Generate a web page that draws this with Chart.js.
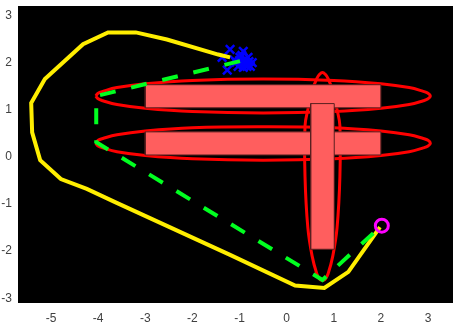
<!DOCTYPE html>
<html>
<head>
<meta charset="utf-8">
<style>
  html, body { margin: 0; padding: 0; background: #fff; }
  #wrap { width: 455px; height: 328px; }
</style>
<script src="https://cdn.jsdelivr.net/npm/chart.js@4"></script>
</head>
<body>
<div id="wrap"><canvas id="myChart" width="455" height="328"></canvas></div>
<script>
const xTicks = [-5, -4, -3, -2, -1, 0, 1, 2, 3];
const yTicks = [-3, -2, -1, 0, 1, 2, 3];

const yellowX = [-1.20, -1.45, -2.54, -3.20, -3.79, -4.32, -5.13, -5.42, -5.40, -5.23, -4.79, -4.24, -3.64, -1.20, 0.18, 0.80, 1.31, 1.98];
const yellowY = [2.11, 2.17, 2.49, 2.64, 2.64, 2.39, 1.65, 1.14, 0.52, -0.07, -0.47, -0.68, -0.96, -2.08, -2.73, -2.78, -2.44, -1.49];

const greenX = [-0.99, -4.04, -4.04, 0.76, 1.98];
const greenY = [2.03, 1.29, 0.31, -2.61, -1.49];

const blueX = [-1.20, -0.92, -1.37, -1.26, -0.73, -1.07, -0.99, -0.88, -0.82, -1.03, -0.92, -0.84, -0.77, -1.11, -0.97, -0.95, -0.90, -1.00, -0.80];
const blueY = [2.28, 2.24, 2.11, 1.84, 2.00, 2.01, 2.11, 2.05, 2.11, 1.92, 1.90, 1.92, 1.92, 2.05, 1.99, 2.15, 1.97, 2.04, 2.02];

const circleX = [2.02];
const circleY = [-1.46];

// ellipses
const upperEllipseX = [-4.05, -4.00, -3.90, -3.60, -3.00, -2.00, -0.50, 1.00, 2.00, 2.60, 2.90, 3.00, 3.05, 3.00, 2.90, 2.60, 2.00, 1.00, -0.50, -2.00, -3.00, -3.60, -3.90, -4.00, -4.05];
const upperEllipseY = [1.29, 1.35, 1.39, 1.47, 1.55, 1.62, 1.65, 1.62, 1.55, 1.47, 1.39, 1.35, 1.29, 1.23, 1.19, 1.11, 1.03, 0.96, 0.93, 0.96, 1.03, 1.11, 1.19, 1.23, 1.29];
const lowerEllipseX = upperEllipseX;
const lowerEllipseY = [0.29, 0.35, 0.39, 0.47, 0.55, 0.62, 0.64, 0.62, 0.55, 0.47, 0.39, 0.35, 0.29, 0.23, 0.19, 0.11, 0.03, -0.04, -0.07, -0.04, 0.03, 0.11, 0.19, 0.23, 0.29];
const sideEllipseX = [0.76, 0.82, 0.88, 0.98, 1.07, 1.13, 1.13, 1.07, 0.98, 0.88, 0.82, 0.76, 0.70, 0.64, 0.54, 0.45, 0.39, 0.39, 0.45, 0.54, 0.64, 0.70, 0.76];
const sideEllipseY = [-2.63, -2.59, -2.48, -2.10, -1.50, -0.42, 0.66, 1.00, 1.40, 1.66, 1.75, 1.79, 1.75, 1.66, 1.40, 1.00, 0.66, -0.42, -1.50, -2.10, -2.48, -2.59, -2.63];

// boxes as [left, right, bottom, top]
const upperBox = [-3, 2, 1.04, 1.53];
const lowerBox = [-3, 2, 0.04, 0.53];
const sideBox = [0.51, 1.01, -1.96, 1.13];

function pts(xs, ys) {
  return xs.map((x, i) => ({ x: x, y: ys[i] }));
}

function outline(name, xs, ys, color, width, order, extra) {
  return Object.assign({
    label: name,
    data: pts(xs, ys),
    showLine: true,
    borderColor: color,
    borderWidth: width,
    pointRadius: 0,
    fill: false,
    tension: 0,
    order: order,
  }, extra || {});
}

// a box is a top edge filled down to its bottom edge, plus a thin dark frame
function box(name, b, order) {
  return [
    outline(name + ' frame', [b[0], b[1], b[1], b[0], b[0]], [b[2], b[2], b[3], b[3], b[2]], '#5a2020', 1, order),
    outline(name, [b[0], b[1]], [b[3], b[3]], 'rgba(0,0,0,0)', 0, order + 0.1, { fill: '+1', backgroundColor: '#ff5e5e' }),
    outline(name + ' base', [b[0], b[1]], [b[2], b[2]], 'rgba(0,0,0,0)', 0, order + 0.2),
  ];
}

const blackPlot = {
  id: 'blackPlot',
  beforeDraw(chart) {
    const a = chart.chartArea;
    chart.ctx.fillStyle = '#000';
    chart.ctx.fillRect(a.left, a.top, a.width, a.height);
  },
};

const ctx = document.getElementById('myChart').getContext('2d');

new Chart(ctx, {
  type: 'scatter',
  data: {
    datasets: [
      outline('circle', circleX, circleY, '#ff00ff', 3, 1, { showLine: false, pointRadius: 6.5, pointBorderWidth: 3, pointBorderColor: '#ff00ff', pointBackgroundColor: 'rgba(0,0,0,0)' }),
      outline('green', greenX, greenY, '#00ff20', 4, 2, { borderDash: [16, 16] }),
      outline('yellow', yellowX, yellowY, '#ffee00', 4, 3),
      outline('blue', blueX, blueY, '#0000ff', 2, 4, { showLine: false, pointStyle: 'crossRot', pointRadius: 6, pointBorderWidth: 2.5, pointBorderColor: '#0000ff' }),
      ...box('sideBox', sideBox, 5),
      ...box('upperBox', upperBox, 6),
      ...box('lowerBox', lowerBox, 7),
      outline('upperEllipse', upperEllipseX, upperEllipseY, '#ff0000', 3, 8, { tension: 0.4 }),
      outline('lowerEllipse', lowerEllipseX, lowerEllipseY, '#ff0000', 3, 8, { tension: 0.4 }),
      outline('sideEllipse', sideEllipseX, sideEllipseY, '#ff0000', 3, 8, { tension: 0.4 }),
    ],
  },
  plugins: [blackPlot],
  options: {
    responsive: false,
    animation: false,
    layout: { autoPadding: false, padding: { top: 6, right: 2, left: 0, bottom: 0 } },
    plugins: { legend: { display: false }, tooltip: { enabled: false } },
    scales: {
      x: {
        type: 'linear',
        min: -5.7,
        max: 3.53,
        grid: { display: false, drawTicks: false },
        border: { display: false },
        afterBuildTicks(axis) { axis.ticks = xTicks.map(v => ({ value: v })); },
        afterFit(axis) { axis.height = 25; axis.paddingLeft = 0; axis.paddingRight = 0; },
        ticks: { color: '#404040', font: { family: 'Liberation Sans', size: 12 }, maxRotation: 0, autoSkip: false, padding: 8 },
      },
      y: {
        type: 'linear',
        min: -3.1,
        max: 3.2,
        grid: { display: false, drawTicks: false },
        border: { display: false },
        afterBuildTicks(axis) { axis.ticks = yTicks.map(v => ({ value: v })); },
        afterFit(axis) { axis.width = 18; axis.paddingTop = 0; axis.paddingBottom = 0; },
        ticks: { color: '#404040', font: { family: 'Liberation Sans', size: 12 }, autoSkip: false, padding: 6 },
      },
    },
  },
});
</script>
</body>
</html>
